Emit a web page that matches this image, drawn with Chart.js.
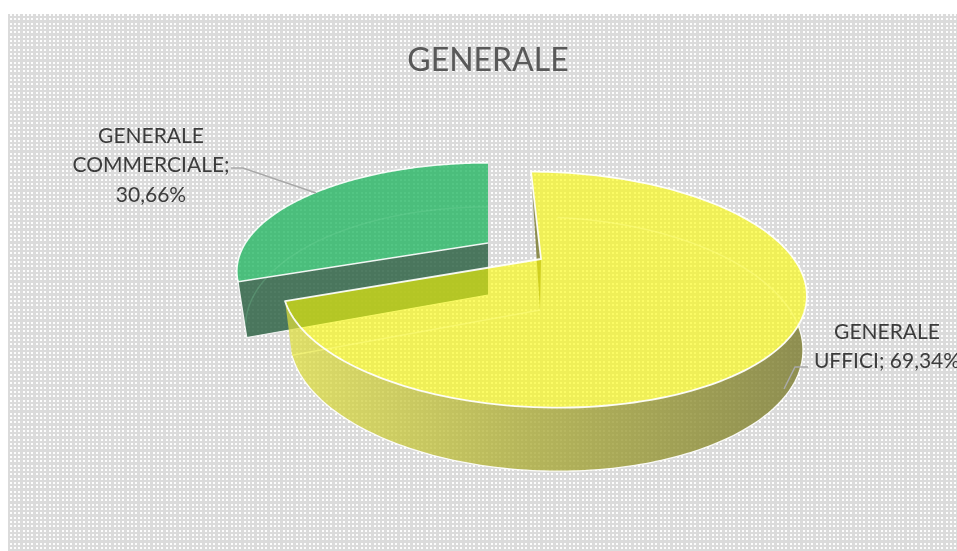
<!DOCTYPE html>
<html>
<head>
<meta charset="utf-8">
<style>html,body{margin:0;padding:0;background:#fff;overflow:hidden}canvas{display:block}</style>
<script src="https://cdn.jsdelivr.net/npm/chart.js@4"></script>
</head>
<body>
<div style="width:957px;height:551px"><canvas id="c" width="957" height="551"></canvas></div>
<script>
const chartTitle = 'GENERALE';
const categories = ['GENERALE UFFICI', 'GENERALE COMMERCIALE'];
const values = [69.34, 30.66];

// Camera for each slice: rim of the top and bottom face, projected with perspective.
const cameras = [
  { top: { cx: 541, cy: 259, a: 253, b: -12.6, g: 110, k: 0.26 },
    bottom: { cx: 543, cy: 310, a: 247, b: -11.4, g: 118, k: 0.268 } },
  { top: { cx: 488, cy: 243, a: 242.5, b: 0, g: 101, k: 0.26 },
    bottom: { cx: 488, cy: 295, a: 234, b: 0, g: 111, k: 0.26 } }
];

function project(d, t) {
  const w = 1 + d.k * Math.cos(t);
  return [d.cx + (d.a * Math.sin(t) + d.b * Math.cos(t)) / w, d.cy - d.g * Math.cos(t) / w];
}
function rim(d, t0, t1) {
  const n = 160, out = [];
  for (let i = 0; i <= n; i++) out.push(project(d, t0 + (t1 - t0) * i / n));
  return out;
}
function trace(ctx, pts, close) {
  ctx.beginPath();
  pts.forEach((p, i) => i ? ctx.lineTo(p[0], p[1]) : ctx.moveTo(p[0], p[1]));
  if (close) ctx.closePath();
}
function dotTile() {
  const c = document.createElement('canvas');
  c.width = c.height = 13;
  const x = c.getContext('2d');
  x.fillStyle = '#dbdbdb';
  x.fillRect(0, 0, 13, 13);
  x.fillStyle = '#fdfdfd';
  [1, 5, 10].forEach(i => [1, 5, 10].forEach(j => x.fillRect(i, j, 2, 2)));
  return c;
}

const pie3d = {
  id: 'pie3d',
  beforeDraw(chart) {
    const ctx = chart.ctx;
    ctx.save();
    ctx.fillStyle = ctx.createPattern(dotTile(), 'repeat');
    ctx.fillRect(8, 14, chart.width - 8, chart.height - 14);
    ctx.restore();
  },
  beforeDatasetsDraw(chart) {
    const ctx = chart.ctx;
    const arcs = chart.getDatasetMeta(0).data;
    const ang = i => [arcs[i].startAngle + Math.PI / 2, arcs[i].endAngle + Math.PI / 2];
    const [y0, y1] = ang(0), [g0, g1] = ang(1);
    const Y = cameras[0], G = cameras[1];
    const yApexLow = [Y.top.cx - 1, Y.bottom.cy];
    ctx.save();
    ctx.lineJoin = 'round';

    // green slice: cut face, then top
    const gA = project(G.top, g0), gB = project(G.bottom, g0);
    trace(ctx, [[G.top.cx, G.top.cy], gA, gB, [G.bottom.cx, G.bottom.cy]], true);
    ctx.fillStyle = 'rgba(41,95,65,0.82)';
    ctx.fill();
    ctx.strokeStyle = 'rgba(255,255,255,0.85)';
    ctx.lineWidth = 1.2;
    trace(ctx, [gA, gB, [G.bottom.cx, G.bottom.cy]]);
    ctx.stroke();
    const gTop = rim(G.top, g0, g1);
    trace(ctx, [[G.top.cx, G.top.cy], ...gTop], true);
    ctx.fillStyle = 'rgba(29,180,93,0.76)';
    ctx.fill();
    trace(ctx, rim(G.bottom, g0 + 0.12, g1));
    ctx.strokeStyle = 'rgba(130,225,170,0.22)';
    ctx.lineWidth = 1.5;
    ctx.stroke();
    trace(ctx, [[G.top.cx, G.top.cy], gA, ...gTop.slice(1)]);
    ctx.strokeStyle = 'rgba(255,255,255,0.9)';
    ctx.lineWidth = 1.6;
    ctx.stroke();

    // yellow slice: inner face at the start angle
    trace(ctx, [project(Y.top, y0), [Y.top.cx, Y.top.cy], yApexLow, project(Y.bottom, y0)], true);
    ctx.fillStyle = 'rgba(118,118,38,0.78)';
    ctx.fill();

    // yellow outer wall, only outside the top face
    const wallStart = 1.6;
    const wt = rim(Y.top, wallStart, y1), wb = rim(Y.bottom, wallStart, y1);
    const wall = ctx.createLinearGradient(290, 0, 800, 0);
    wall.addColorStop(0, 'rgba(222,222,60,0.72)');
    wall.addColorStop(0.45, 'rgba(172,172,55,0.78)');
    wall.addColorStop(1, 'rgba(125,125,50,0.82)');
    ctx.save();
    trace(ctx, rim(Y.top, 0, Math.PI * 2), true);
    ctx.rect(0, 0, chart.width, chart.height);
    ctx.clip('evenodd');
    trace(ctx, [...wt, ...wb.slice().reverse()], true);
    ctx.fillStyle = wall;
    ctx.fill();
    trace(ctx, wb);
    ctx.strokeStyle = 'rgba(255,255,255,0.9)';
    ctx.lineWidth = 1.3;
    ctx.stroke();
    ctx.restore();

    // yellow top
    const yTop = rim(Y.top, y0, y1);
    trace(ctx, [[Y.top.cx, Y.top.cy], ...yTop], true);
    ctx.fillStyle = 'rgba(252,252,0,0.6)';
    ctx.fill();

    // seen-through edges of the bottom face
    trace(ctx, [yApexLow, project(Y.bottom, y1)]);
    ctx.strokeStyle = 'rgba(255,255,130,0.5)';
    ctx.lineWidth = 1.5;
    ctx.stroke();
    trace(ctx, rim(Y.bottom, y0 + 0.12, wallStart + 0.12));
    ctx.stroke();

    // white outline of the yellow top
    trace(ctx, [project(Y.top, y0), [Y.top.cx, Y.top.cy], project(Y.top, y1), ...yTop.slice().reverse()], false);
    ctx.strokeStyle = 'rgba(255,255,255,0.92)';
    ctx.lineWidth = 1.8;
    ctx.stroke();
    ctx.restore();
    return false;
  },
  afterDraw(chart) {
    const ctx = chart.ctx;
    const fmt = v => v.toFixed(2).replace('.', ',') + '%';
    const lines0 = ['GENERALE', 'UFFICI; ' + fmt(values[0])];
    const lines1 = ['GENERALE', 'COMMERCIALE;', fmt(values[1])];
    ctx.save();
    ctx.strokeStyle = '#a9a9a9';
    ctx.lineWidth = 1.5;
    trace(ctx, [[231, 168], [243, 168], [316, 193]]);
    ctx.stroke();
    trace(ctx, [[808, 367], [795, 367], [784, 389]]);
    ctx.stroke();
    ctx.fillStyle = '#3c3c3c';
    ctx.font = '21px Lato, sans-serif';
    ctx.textAlign = 'center';
    ctx.textBaseline = 'middle';
    lines1.forEach((s, i) => ctx.fillText(s, 151, 136 + i * 29.5));
    lines0.forEach((s, i) => ctx.fillText(s, 887, 332 + i * 29.5));
    ctx.restore();
  }
};

new Chart(document.getElementById('c'), {
  type: 'pie',
  data: {
    labels: categories,
    datasets: [{ data: values, backgroundColor: ['#f3f35a', '#4fc07f'], borderWidth: 0 }]
  },
  options: {
    responsive: false,
    animation: false,
    rotation: 0,
    layout: { padding: { left: 19, top: 41 } },
    plugins: {
      legend: { display: false },
      tooltip: { enabled: false },
      title: {
        display: true,
        text: chartTitle,
        color: '#595959',
        font: { family: 'Lato, sans-serif', size: 32, weight: 'normal' },
        padding: { top: 0, bottom: 10 }
      }
    }
  },
  plugins: [pie3d]
});
</script>
</body>
</html>
